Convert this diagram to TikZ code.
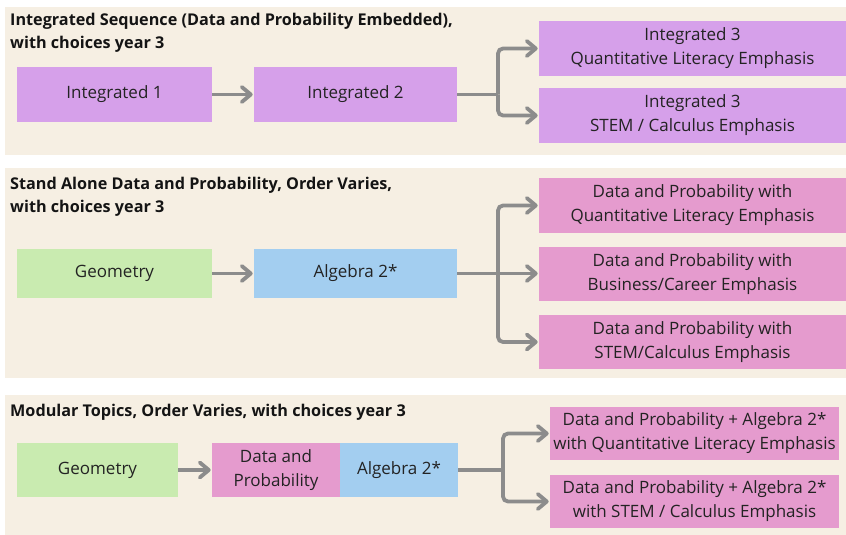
\documentclass[tikz,border=0pt]{standalone}
\usepackage{fontspec}
\setmainfont{Open Sans}
\usetikzlibrary{arrows.meta}
\definecolor{bgpanel}{RGB}{246,239,227}
\definecolor{purp}{RGB}{214,160,234}
\definecolor{pinkb}{RGB}{229,155,206}
\definecolor{greenb}{RGB}{201,235,176}
\definecolor{blueb}{RGB}{163,206,240}
\definecolor{arrowgray}{RGB}{140,140,140}
\definecolor{txt}{RGB}{35,35,35}
\tikzset{
  panel/.style={fill=bgpanel, draw=none},
  box/.style={draw=none, inner sep=0pt, align=center, text=txt, font=\fontsize{17}{24}\selectfont},
  ttl/.style={anchor=north west, align=left, inner sep=0pt, font=\fontsize{16.2}{23}\selectfont\bfseries, text=black!92},
  conn/.style={draw=arrowgray, line width=3.8pt, rounded corners=5pt, shorten >=4pt},
  trunk/.style={draw=arrowgray, line width=3.8pt, rounded corners=5pt},
  chevhead/.style={draw=arrowgray, line width=3.8pt, line cap=round, line join=round},
  chev/.pic={\path[chevhead] (-12pt,-7.5pt) -- (-3pt,0pt) -- (-12pt,7.5pt);},
}
\begin{document}
\begin{tikzpicture}[x=1pt,y=-1pt]
\useasboundingbox (0,0) rectangle (846,535);
\fill[white] (0,0) rectangle (846,535);
% panels
\path[panel] (5,7) rectangle (846,155);
\path[panel] (5,168) rectangle (846,378);
\path[panel] (5,395) rectangle (846,535);

% ---- panel 1
\node[ttl] (t1) at (10,12.5) {Integrated Sequence (Data and Probability Embedded),\\with choices year 3};
\node[box, fill=purp, minimum width=195pt, minimum height=55pt] (i1) at (114.5,94.5) {Integrated 1};
\node[box, fill=purp, minimum width=203pt, minimum height=55pt] (i2) at (355.5,94.5) {Integrated 2};
\node[box, fill=purp, minimum width=307pt, minimum height=55pt] (i3a) at (692.5,48.5) {Integrated 3\\Quantitative Literacy Emphasis};
\node[box, fill=purp, minimum width=307pt, minimum height=55pt] (i3b) at (692.5,115.5) {Integrated 3\\STEM / Calculus Emphasis};
\coordinate (b1) at (498,94.5);
\draw[conn] (i1) -- (i2);
\pic at (i2.west |- i1) {chev};
\draw[trunk] (i2.east) -- (b1);
\draw[conn] (b1) |- (i3a.west);
\draw[conn] (b1) |- (i3b.west);
\pic at (i3a.west) {chev};
\pic at (i3b.west) {chev};

% ---- panel 2
\node[ttl] (t2) at (10,176.5) {Stand Alone Data and Probability, Order Varies,\\with choices year 3};
\node[box, fill=greenb, minimum width=195pt, minimum height=49pt] (g2) at (114.5,273.5) {Geometry};
\node[box, fill=blueb, minimum width=203pt, minimum height=49pt] (a2) at (355.5,273.5) {Algebra 2*};
\node[box, fill=pinkb, minimum width=307pt, minimum height=55pt] (d1) at (692.5,205.5) {Data and Probability with\\Quantitative Literacy Emphasis};
\node[box, fill=pinkb, minimum width=307pt, minimum height=54pt] (d2) at (692.5,274) {Data and Probability with\\Business/Career Emphasis};
\node[box, fill=pinkb, minimum width=307pt, minimum height=54pt] (d3) at (692.5,342) {Data and Probability with\\STEM/Calculus Emphasis};
\coordinate (b2) at (498,273.5);
\draw[conn] (g2) -- (a2);
\pic at (a2.west) {chev};
\draw[trunk] (a2.east) -- (b2);
\draw[conn] (b2) |- (d1.west);
\draw[conn] (b2) -- (d2.west |- b2);
\draw[conn] (b2) |- (d3.west);
\pic at (d1.west) {chev};
\pic at (d2.west |- b2) {chev};
\pic at (d3.west) {chev};

% ---- panel 3
\node[ttl] (t3) at (10,403.5) {Modular Topics, Order Varies, with choices year 3};
\node[box, fill=greenb, minimum width=161pt, minimum height=54pt] (g3) at (97.5,470) {Geometry};
\node[box, fill=pinkb, minimum width=128pt, minimum height=54pt] (dp3) at (276,470) {Data and\\Probability};
\node[box, fill=blueb, minimum width=118pt, minimum height=54pt] (a3) at (399,470) {Algebra 2*};
\node[box, fill=pinkb, minimum width=289pt, minimum height=53pt] (m1) at (694.5,433.5) {Data and Probability + Algebra 2*\\with Quantitative Literacy Emphasis};
\node[box, fill=pinkb, minimum width=289pt, minimum height=53pt] (m2) at (694.5,501.5) {Data and Probability + Algebra 2*\\with STEM / Calculus Emphasis};
\coordinate (b3) at (503,470);
\draw[conn] (g3) -- (dp3);
\pic at (dp3.west) {chev};
\draw[trunk] (a3.east) -- (b3);
\draw[conn] (b3) |- (m1.west);
\draw[conn] (b3) |- (m2.west);
\pic at (m1.west) {chev};
\pic at (m2.west) {chev};
\end{tikzpicture}
\end{document}
